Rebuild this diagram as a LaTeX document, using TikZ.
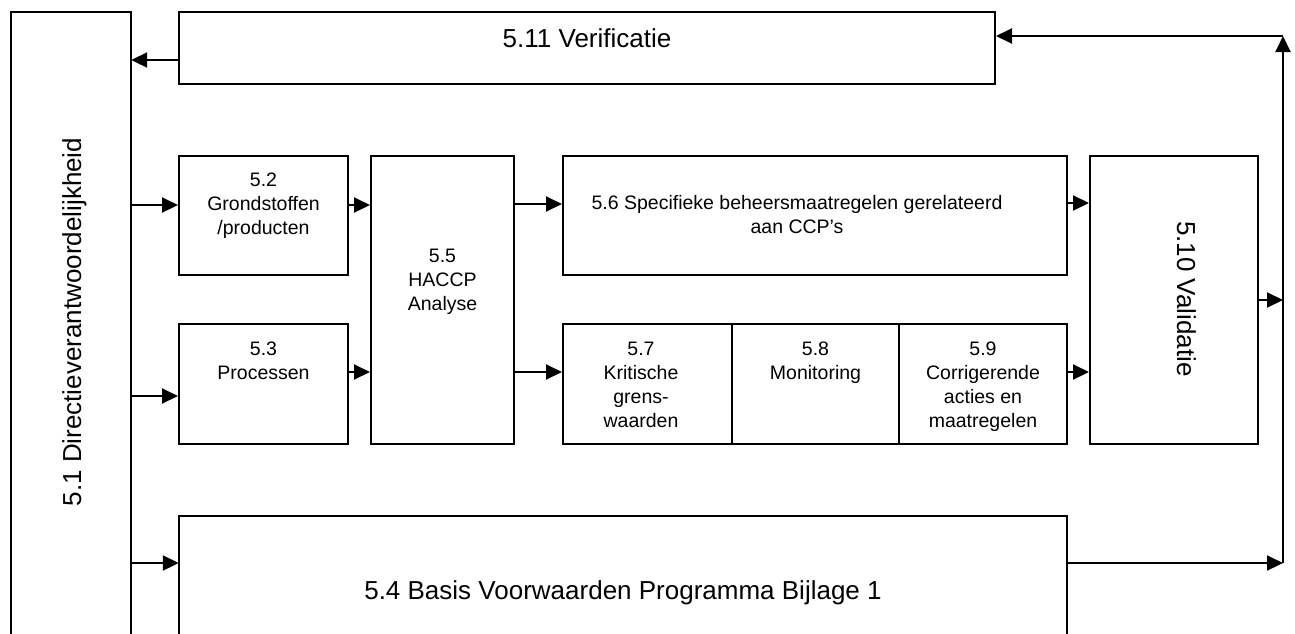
\documentclass[tikz,border=0pt]{standalone}
\usepackage{fontspec}
\setmainfont{Liberation Sans}
\usetikzlibrary{arrows.meta}
\begin{document}
\begin{tikzpicture}[x=1pt,y=-1pt,
  box/.style={draw, line width=2pt, inner sep=0pt, rectangle},
  frame/.style={inner sep=0pt, rectangle},
  ln/.style={line width=2pt},
  arr/.style={line width=2pt, -{Triangle[length=16pt,width=15pt]}},
  sm/.style={font=\fontsize{19.5}{24}\selectfont, align=center, anchor=north, inner sep=0pt},
  bg/.style={font=\fontsize{26}{30}\selectfont, inner sep=0pt, anchor=base}]
\useasboundingbox (0,0) rectangle (1295,633);
\clip (0,0) rectangle (1295,633);
% open frames (cut off at the bottom)
\node[frame, minimum width=120, minimum height=640] (d51) at (71,332) {};
\draw[ln] (d51.south west) -- (d51.north west) -- (d51.north east) -- (d51.south east);
\node[frame, minimum width=888, minimum height=144] (b54) at (623,588) {};
\draw[ln] (b54.south west) -- (b54.north west) -- (b54.north east) -- (b54.south east);
% boxes
\node[box, minimum width=816, minimum height=72] (v511) at (587,48) {};
\node[box, minimum width=169, minimum height=119] (p52) at (263.5,215.5) {};
\node[box, minimum width=169, minimum height=120] (p53) at (263.5,384) {};
\node[box, minimum width=143, minimum height=288] (h55) at (442.5,300) {};
\node[box, minimum width=504, minimum height=119] (s56) at (815,215.5) {};
\node[box, minimum width=169, minimum height=120] (k57) at (647.5,384) {};
\node[box, minimum width=167, minimum height=120] (m58) at (815.5,384) {};
\node[box, minimum width=168, minimum height=120] (c59) at (983,384) {};
\node[box, minimum width=168, minimum height=288] (v510) at (1174,300) {};
% texts
\node[bg] (t511) at (587,47) {5.11 Verificatie};
\node[bg, rotate=90] (t51) at (81,322) {5.1 Directieverantwoordelijkheid};
\node[bg, rotate=-90] (t510) at (1177,299) {5.10 Validatie};
\node[bg] (t54) at (623,599) {5.4 Basis Voorwaarden Programma Bijlage 1};
\node[sm] (t52) at (263.5,169.2) {\strut 5.2\\Grondstoffen\\/producten};
\node[sm] (t53) at (263.5,338.2) {\strut 5.3\\Processen};
\node[sm] (t55) at (442.5,245.2) {\strut 5.5\\HACCP\\Analyse};
\node[sm] (t56) at (797,192.2) {\strut 5.6 Specifieke beheersmaatregelen gerelateerd\\aan CCP’s};
\node[sm] (t57) at (641,338.2) {\strut 5.7\\Kritische\\grens-\\waarden};
\node[sm] (t58) at (815.5,338.2) {\strut 5.8\\Monitoring};
\node[sm] (t59) at (983,338.2) {\strut 5.9\\Corrigerende\\acties en\\maatregelen};
% rail
\coordinate (rt) at (1283,36);
\coordinate (rb) at (1283,563);
% connectors
\coordinate (a11) at ([yshift=-12pt]v511.west);
\draw[arr] (a11) -- (a11 -| d51.east);
\coordinate (a2) at ([yshift=10.5pt]p52.west);
\draw[arr] (a2 -| d51.east) -- (a2);
\coordinate (a2e) at ([yshift=10.5pt]p52.east);
\draw[arr] (a2e) -- (a2e -| h55.west);
\coordinate (a5) at ([yshift=11.5pt]s56.west);
\draw[arr] (a5 -| h55.east) -- (a5);
\coordinate (a6) at ([yshift=12.5pt]s56.east);
\draw[arr] (a6) -- (a6 -| v510.west);
\coordinate (a3) at ([yshift=-12pt]p53.west);
\draw[arr] (a3 -| d51.east) -- (a3);
\coordinate (a3e) at ([yshift=12pt]p53.east);
\draw[arr] (a3e) -- (a3e -| h55.west);
\coordinate (a7) at ([yshift=12pt]k57.west);
\draw[arr] (a7 -| h55.east) -- (a7);
\coordinate (a9) at ([yshift=12pt]c59.east);
\draw[arr] (a9) -- (a9 -| v510.west);
\draw[arr] (v510.east) -- (v510.east -| rt);
\coordinate (a4) at ([yshift=25pt]b54.west);
\draw[arr] (a4 -| d51.east) -- (a4);
\draw[arr] (a4 -| b54.east) -- (rb);
\draw[arr] (rb) -- (rt);
\draw[arr] (rt) -- (rt -| v511.east);
\end{tikzpicture}
\end{document}
